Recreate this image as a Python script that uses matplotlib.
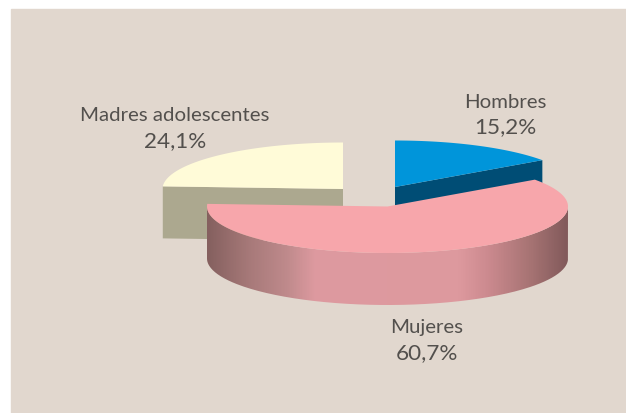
#!/usr/bin/env python3

import numpy as np
import matplotlib
matplotlib.use('Agg')
import matplotlib.pyplot as plt
from matplotlib.colors import LinearSegmentedColormap
from matplotlib.patches import PathPatch, Rectangle
from matplotlib.path import Path

labels = ['Hombres', 'Mujeres', 'Madres adolescentes']
values = [15.2, 60.7, 24.1]
value_labels = ['15,2%', '60,7%', '24,1%']

top_colors = ['#0095da', '#f7a6ab', '#fffbd8']
side_colors = ['#004d75', None, '#aca88f']

# slice centres in pixels, exploded like the original
centers = [(395, 188), (387.5, 207.5), (343, 190)]
label_pos = [(505.5, 103, 127), (427, 328, 353), (175, 116, 141)]

RX, RY = 180.5, 46.5
DEPTH = 52

plt.rcParams['font.family'] = ['Lato', 'DejaVu Sans']

fig = plt.figure(figsize=(6.26, 4.14), dpi=100, facecolor='white')
ax = fig.add_axes([0, 0, 1, 1])
ax.set_xlim(0, 626)
ax.set_ylim(414, 0)
ax.axis('off')

ax.add_patch(Rectangle((11, 10), 615, 404, color='#e1d7ce', zorder=0))


def arc(cx, cy, a0, a1, n=200):
    t = np.radians(np.linspace(a0, a1, n))
    return cx + RX * np.cos(t), cy - RY * np.sin(t)


def poly(xs, ys):
    return Path(np.column_stack([xs, ys]))


# angles run clockwise from 12 o'clock
angles = []
start = 90.0
for v in values:
    end = start - v / sum(values) * 360
    angles.append((start, end))
    start = end

side_cmap = LinearSegmentedColormap.from_list('side', [
    (0.0, '#85605f'), (0.12, '#a87a7a'), (0.22, '#bf8a8c'), (0.30, '#de9aa0'),
    (0.70, '#dd999e'), (0.78, '#cc8a8f'), (0.90, '#a67373'), (1.0, '#825a5b')])

# back slices first, the big one covers them
for i in [2, 0]:
    cx, cy = centers[i]
    a0, a1 = angles[i]
    xs, ys = arc(cx, cy, a0, a1)

    # the visible cut face, from the rim to the centre
    rim = 0 if abs(xs[0] - cx) > abs(xs[-1] - cx) else -1
    sx = [xs[rim], cx, cx, xs[rim]]
    sy = [ys[rim], cy, cy + DEPTH, ys[rim] + DEPTH]
    ax.add_patch(PathPatch(poly(sx, sy), facecolor=side_colors[i], edgecolor='none', zorder=2))

    top = poly(np.r_[cx, xs, cx], np.r_[cy, ys, cy])
    ax.add_patch(PathPatch(top, facecolor=top_colors[i], edgecolor='none', zorder=3))

# big slice
cx, cy = centers[1]
a0, a1 = angles[1]
xs, ys = arc(cx, cy, a0, a1)

# wall only exists on the front half of the ellipse
wx, wy = arc(cx, cy, 180, 360)
wall = poly(np.r_[wx, wx[::-1]], np.r_[wy, wy[::-1] + DEPTH])
grad = np.linspace(0, 1, 400).reshape(1, -1)
im = ax.imshow(grad, cmap=side_cmap, aspect='auto', zorder=4,
               extent=[cx - RX, cx + RX, cy + RY + DEPTH, cy])
im.set_clip_path(PathPatch(wall, transform=ax.transData))
ax.set_xlim(0, 626)
ax.set_ylim(414, 0)

top = poly(np.r_[cx, xs, cx], np.r_[cy, ys, cy])
ax.add_patch(PathPatch(top, facecolor=top_colors[1], edgecolor='none', zorder=5))

for name, val, (x, y0, y1) in zip(labels, value_labels, label_pos):
    ax.text(x, y0, name, ha='center', va='center', fontsize=14.7,
            color='#53504d', zorder=6)
    ax.text(x, y1, val, ha='center', va='center', fontsize=16.2,
            color='#53504d', zorder=6)

plt.savefig('out.png', dpi=100, facecolor='white')
plt.close()
